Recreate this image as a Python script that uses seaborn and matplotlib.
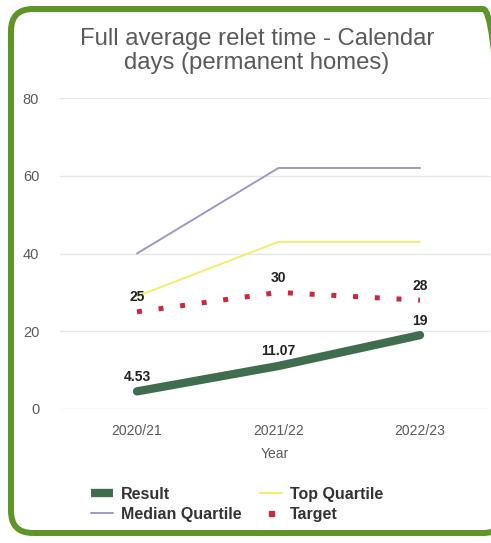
import matplotlib
matplotlib.use("Agg")
import matplotlib.pyplot as plt
from matplotlib.lines import Line2D
from matplotlib.patches import FancyBboxPatch
import seaborn as sns
import pandas as pd

years = ["2020/21", "2021/22", "2022/23"]
result = [4.53, 11.07, 19]
top_quartile = [29, 43, 43]
median_quartile = [40, 62, 62]
target = [25, 30, 28]
y_ticks = [0, 20, 40, 60, 80]

sns.set_theme(style="white")
plt.rcParams["font.family"] = ["Liberation Sans", "DejaVu Sans"]

W, H, DPI = 491, 543, 100
fig = plt.figure(figsize=(W / DPI, H / DPI), dpi=DPI)
fig.patch.set_facecolor("white")

# plot area in pixel terms
left_px, right_px, top_px, bottom_px = 60, 490, 98, 409
ax = fig.add_axes([left_px / W, 1 - bottom_px / H,
                   (right_px - left_px) / W, (bottom_px - top_px) / H])

df = pd.DataFrame({"x": range(len(years)), "Result": result,
                   "Top Quartile": top_quartile,
                   "Median Quartile": median_quartile, "Target": target})

c_result = "#3f6d4d"
c_top = "#f3ed6c"
c_median = "#9d99c7"
c_target = "#c92b3e"

sns.lineplot(data=df, x="x", y="Median Quartile", ax=ax, color=c_median,
             lw=1.4, zorder=2)
sns.lineplot(data=df, x="x", y="Top Quartile", ax=ax, color=c_top,
             lw=1.4, zorder=2)
sns.lineplot(data=df, x="x", y="Target", ax=ax, color=c_target, lw=3.6,
             linestyle=(0, (1, 3.35)), dash_capstyle="butt", zorder=3)
sns.lineplot(data=df, x="x", y="Result", ax=ax, color=c_result, lw=6,
             solid_capstyle="round", zorder=4)

# value labels
for xs, vals in [(df["x"], target), (df["x"], result)]:
    for xi, v in zip(xs, vals):
        ax.annotate(f"{v:g}", (xi, v), xytext=(0, 10.5),
                    textcoords="offset points", ha="center", va="center",
                    fontsize=10, fontweight="bold", color="#222222",
                    zorder=6)

# x positions: 2020/21 at 137px, spacing 141.5px
x0, step = 137, 141.5
ax.set_xlim((left_px - x0) / step, (right_px - x0) / step)
ax.set_ylim(0, 80)
ax.set_yticks(y_ticks)
ax.set_xticks(range(len(years)))
ax.set_xticklabels(years)
ax.tick_params(axis="x", labelsize=10, colors="#5a5a5a", length=0, pad=11)
ax.tick_params(axis="y", labelsize=10.5, colors="#5a5a5a", length=0, pad=15)
ax.yaxis.grid(True, color="#e6e6e6", lw=1)
ax.xaxis.grid(False)
for s in ax.spines.values():
    s.set_visible(False)
ax.set_ylabel("")
ax.set_xlabel("Year", fontsize=10, color="#5a5a5a", labelpad=6)

fig.text(257 / W, 1 - 51 / H,
         "Full average relet time - Calendar\ndays (permanent homes)",
         ha="center", va="center", fontsize=17.2, color="#5a5a5a",
         linespacing=1.15)

handles = [
    Line2D([], [], color=c_result, lw=6, solid_capstyle="butt"),
    Line2D([], [], color=c_median, lw=1.4),
    Line2D([], [], color=c_top, lw=1.4),
    Line2D([], [], color=c_target, lw=0, marker="s", markersize=3.6),
]
labels = ["Result", "Median Quartile", "Top Quartile", "Target"]
leg = fig.legend(handles, labels, ncol=2, frameon=False,
                 loc="upper left", bbox_to_anchor=(91 / W, 1 - 487 / H),
                 prop={"size": 11.5, "weight": "bold"},
                 labelcolor="#333333", handlelength=1.4, handletextpad=0.5,
                 columnspacing=1.1, labelspacing=0.3, borderpad=0,
                 borderaxespad=0)

# rounded green frame (figure-fraction coords), running off the right edge
fx0, fx1 = 11, 505          # left / right edge in px
fy_top, fy_bot = 9, 533     # top / bottom edge in px from top
radius = 22
frame = FancyBboxPatch((fx0 / W, 1 - fy_bot / H),
                       (fx1 - fx0) / W, (fy_bot - fy_top) / H,
                       boxstyle=f"round,pad=0,rounding_size={radius / W}",
                       mutation_aspect=W / H,
                       transform=fig.transFigure, fill=False,
                       ec="#5e9428", lw=4.3, zorder=10, clip_on=False)
fig.patches.append(frame)

fig.savefig("out.png", dpi=DPI, facecolor="white")
